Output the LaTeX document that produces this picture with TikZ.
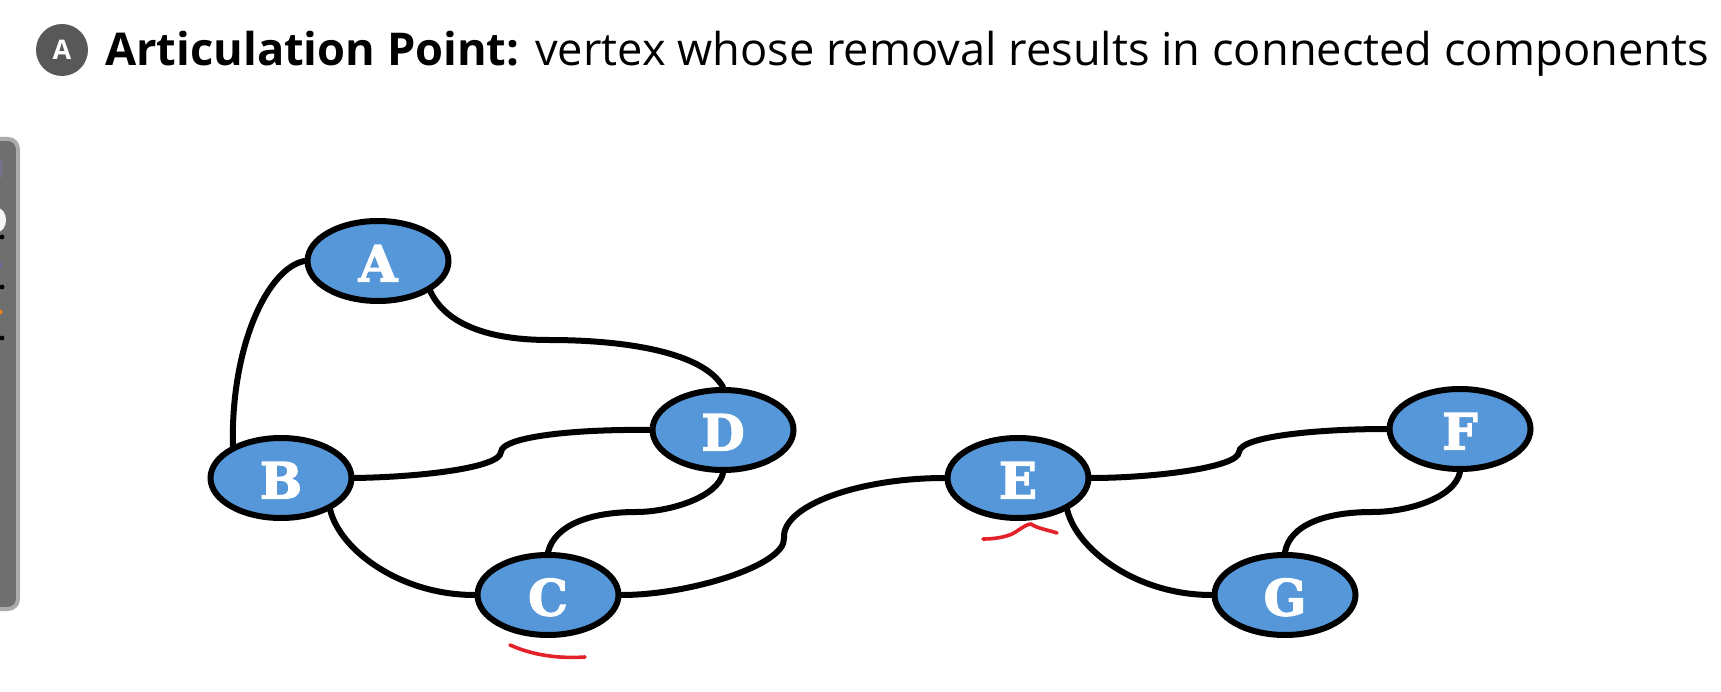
\documentclass[tikz,border=0pt]{standalone}
\usepackage{fontspec}
\setmainfont{Open Sans}
\newfontfamily\nodefont[BoldFeatures={FakeBold=2.5}]{DejaVu Serif}
\definecolor{nodeblue}{HTML}{5597D8}
\definecolor{barfill}{HTML}{6F6F6F}
\definecolor{baredge}{HTML}{ABABAB}
\definecolor{badge}{HTML}{585858}
\definecolor{inkred}{HTML}{E4202A}
\usetikzlibrary{shapes.geometric}
\tikzset{
  vertex/.style={ellipse,draw=black,fill=nodeblue,line width=6pt,minimum width=141pt,minimum height=80pt,inner sep=0pt,text=white,text height=41pt,text depth=0pt,font=\nodefont\bfseries\fontsize{50}{50}\selectfont},
  edge/.style={draw=black,line width=6pt,line cap=round},
  ink/.style={draw=inkred,line width=3.6pt,line cap=round,line join=round},
}
\begin{document}
\begin{tikzpicture}[x=1pt,y=-1pt]
\useasboundingbox (0,0) rectangle (1721,692);
\fill[white] (0,0) rectangle (1721,692);
% toolbar at the left edge
\draw[baredge,fill=barfill,line width=4pt,rounded corners=10pt] (-20,139) rectangle (18,609);
\fill[white!92!gray] (-6,207) .. controls (3,207) and (6,214) .. (6,220) .. controls (6,226) and (3,233) .. (-6,233) -- cycle;
\fill[black] (2,237) circle (2.4pt);
\fill[black] (2,287) circle (2.4pt);
\fill[black] (2,338) circle (2.4pt);
\fill[orange!70!brown] (0,312) circle (2.6pt);
\fill[blue!20!gray] (0,265) circle (2.6pt);
\fill[blue!10!gray] (-1,160) rectangle (1.5,178);
% heading
\node[circle,fill=badge,minimum size=52pt,inner sep=0pt,text=white,font=\bfseries\fontsize{27}{27}\selectfont] (badge) at (62,50) {A};
\node[anchor=base west,inner sep=0pt,font=\fontsize{45.2}{50}\selectfont] (title) at (105,66) {\textbf{Articulation Point:} vertex whose removal results in connected components};
% vertices
\node[vertex] (A) at (378,261) {A};
\node[vertex] (B) at (281,478) {B};
\node[vertex] (C) at (548,595) {C};
\node[vertex] (D) at (723,430) {D};
\node[vertex] (E) at (1018,478) {E};
\node[vertex] (F) at (1460,429) {F};
\node[vertex] (G) at (1285,595) {G};
% waypoints
\coordinate (ad) at (549,340);
\coordinate (bd) at (501,452);
\coordinate (dc) at (636,512);
\coordinate (ce) at (784,538);
\coordinate (ef) at (1239,452);
\coordinate (fg) at (1372,512);
% edges
\draw[edge] (A.west) .. controls (268,268) and (231,345) .. (B.146);
\draw[edge] (A.-30) .. controls (446,325) and (490,340) .. (ad) .. controls (625,340) and (703,352) .. (D.north);
\draw[edge] (B.east) .. controls (420,477) and (500,468) .. (bd) .. controls (502,436) and (580,429) .. (D.west);
\draw[edge] (D.south) .. controls (718,497) and (670,512) .. (dc) .. controls (590,512) and (555,525) .. (C.north);
\draw[edge] (B.-33) .. controls (340,550) and (400,595) .. (C.west);
\draw[edge] (C.east) .. controls (690,595) and (786,565) .. (ce) .. controls (782,505) and (860,478) .. (E.west);
\draw[edge] (E.east) .. controls (1150,478) and (1238,468) .. (ef) .. controls (1240,436) and (1320,429) .. (F.west);
\draw[edge] (F.south) .. controls (1455,497) and (1410,512) .. (fg) .. controls (1325,512) and (1290,525) .. (G.north);
\draw[edge] (E.-33) .. controls (1077,550) and (1137,595) .. (G.west);
% red pen marks
\draw[ink] (510,645) .. controls (530,654) and (555,659) .. (585,657);
\draw[ink] (983,539) .. controls (995,539) and (1005,537) .. (1012,534) .. controls (1018,531) and (1026,524) .. (1031,524) .. controls (1036,528) and (1048,530) .. (1057,533);
\end{tikzpicture}
\end{document}
